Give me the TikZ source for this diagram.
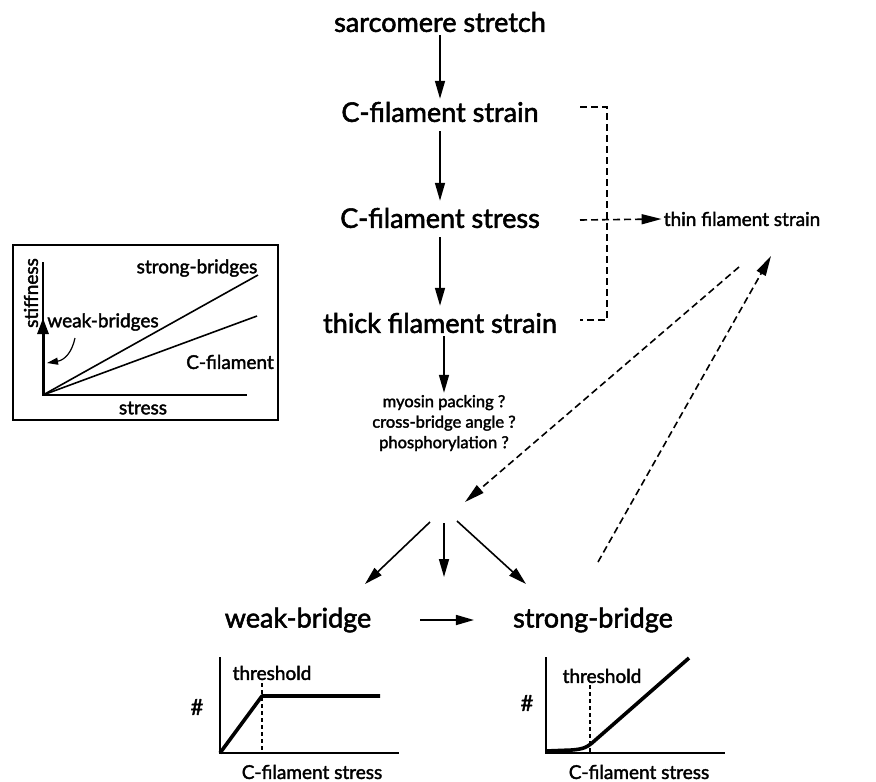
\documentclass[tikz,border=0pt]{standalone}
\usepackage{fontspec}
\setmainfont{Lato}[FakeBold=2]
\usepackage{tikz}
\usetikzlibrary{arrows.meta,positioning}
\tikzset{
  stage/.style={ font=\fontsize{27}{30}\selectfont, inner sep=3pt }
}
\tikzset{
  note/.style={ font=\fontsize{19}{22}\selectfont, inner sep=2pt }
}
\tikzset{
  guess/.style={ font=\fontsize{16.5}{20.5}\selectfont, align=center, inner sep=2pt }
}
\tikzset{
  arr/.style={ -{Triangle[length=18pt,width=10pt]}, line width=1.6pt }
}
\tikzset{
  darr/.style={ -{Triangle[length=20pt,width=10pt]}, line width=1.6pt, dash pattern=on 7pt off 4pt }
}
\tikzset{
  dline/.style={ line width=1.6pt, dash pattern=on 7pt off 4pt }
}
\tikzset{
  curve/.style={ line width=3.6pt, line join=round }
}
\begin{document}
\begin{tikzpicture}[x=1pt, y=-1pt]
      \useasboundingbox (0,0) rectangle (876,782);
      % main chain
      \node[stage] (sarc) at (440,22) {sarcomere stretch};
      \node[stage] (cstrain) at (440,112) {C-filament strain};
      \node[stage] (cstress) at (440,218) {C-filament stress};
      \node[stage] (thick) at (440,323) {thick filament strain};
      \node[guess] (myo) at (444,423) {myosin packing ?\\cross-bridge angle ?\\phosphorylation ?};
      \node[note] (thin) at (742,219) {thin filament strain};
      \node[stage] (weak) at (298,620) {weak-bridge};
      \node[stage] (strong) at (593,620) {strong-bridge};
      \draw[arr] (sarc) -- (cstrain);
      \draw[arr, shorten <=6pt, shorten >=4pt] (cstrain) -- (cstress);
      \draw[arr, shorten <=6pt, shorten >=4pt] (cstress) -- (thick);
      \draw[arr] ([xshift=4pt]thick.south) -- (myo.north);
      % dashed bracket to thin filament
      \coordinate (brtop) at (580,107);
      \coordinate (brmid) at (580,220);
      \coordinate (brbot) at (580,320);
      \draw[dline] (brtop) -- ++(27,0) |- (brbot);
      \draw[darr] (brmid) -- (thin.west);
      % feedback with thin filament
      \coordinate (hub) at (465,502);
      \coordinate (thinout) at (739,267);
      \coordinate (thinin) at (771,256);
      \coordinate (strongout) at (598,562);
      \draw[darr] (thinout) -- (hub);
      \draw[darr] (strongout) -- (thinin);
      % split into bridge states
      \coordinate (hl) at (430,522);
      \coordinate (hm) at (444,523);
      \coordinate (hr) at (457,521);
      \coordinate (wl) at (365,584);
      \coordinate (wm) at (444,577);
      \coordinate (wr) at (526,584);
      \draw[arr] (hl) -- (wl);
      \draw[arr] (hm) -- (wm);
      \draw[arr] (hr) -- (wr);
      \draw[arr, shorten <=46pt, shorten >=36pt] (weak) -- (strong);
      % weak-bridge plot
      \draw[line width=1.2pt] (220,657) -- (220,753) -- (399,753);
      \draw[line width=1.2pt, dash pattern=on 4pt off 3pt] (262,683) -- (262,753);
      \draw[curve] (220,753) -- (262,696) -- (380,696);
      \node[note] (wthr) at (272,673) {threshold};
      \node[note, font=\fontsize{22}{24}\selectfont] (wnum) at (197,707) {\#};
      \node[note] (wx) at (312,772) {C-filament stress};
      % strong-bridge plot
      \draw[line width=1.2pt] (546,657) -- (546,753) -- (725,753);
      \draw[line width=1.2pt, dash pattern=on 4pt off 3pt] (590,685) -- (590,753);
      \draw[curve] (546,751) -- (572,750) .. controls (584,749) and (587,747) .. (592,743) -- (689,658);
      \node[note] (sthr) at (602,676) {threshold};
      \node[note, font=\fontsize{22}{24}\selectfont] (snum) at (527,703) {\#};
      \node[note] (sx) at (639,772) {C-filament stress};
      % stiffness inset
      \draw[line width=1.2pt] (13,245) rectangle (278,420);
      \draw[line width=1.2pt] (43,262) -- (43,395) -- (247,395);
      \draw[-{Triangle[length=16pt,width=11pt]}, line width=3pt] (43,395) -- (43,318);
      \draw[line width=1.6pt] (43,395) -- (258,275);
      \draw[line width=1.6pt] (43,395) -- (257,316);
      \node[note, rotate=90] (stiff) at (31,293) {stiffness};
      \node[note] (istress) at (143,408) {stress};
      \node[note] (isb) at (197,268) {strong-bridges};
      \node[note] (iwb) at (103,322) {weak-bridges};
      \node[note] (icf) at (230,362) {C-filament};
      \draw[-{Triangle[length=11pt,width=7pt]}, line width=1.2pt] (75,338) .. controls (72,352) and (65,360) .. (47,363);
    \end{tikzpicture}
\end{document}
